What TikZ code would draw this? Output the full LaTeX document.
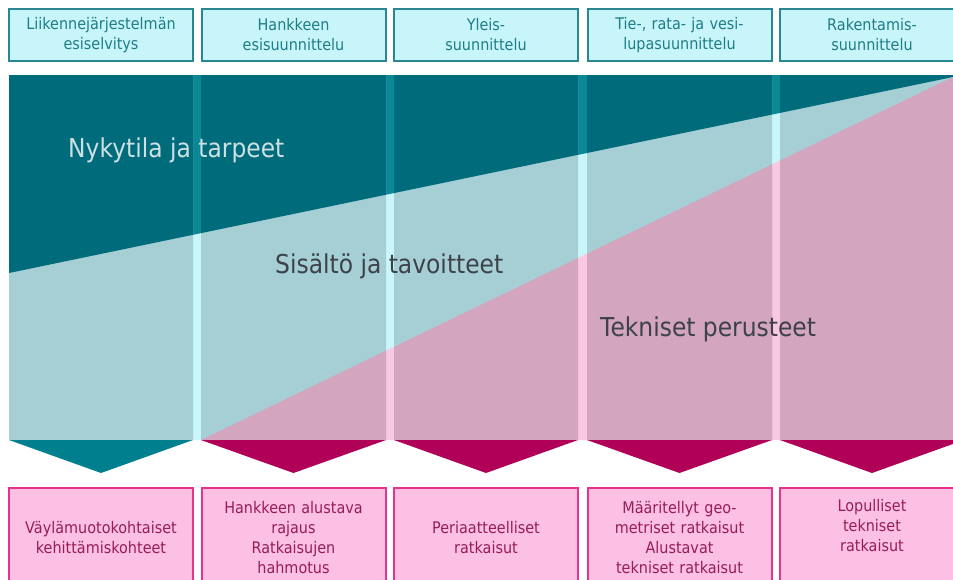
\documentclass[tikz,border=0pt]{standalone}
\usepackage{fontspec}
\setmainfont{DejaVu Sans}[FakeStretch=0.9]

\definecolor{darkband}{RGB}{0,107,122}
\definecolor{darkgap}{RGB}{12,135,150}
\definecolor{lightband}{RGB}{165,207,213}
\definecolor{lightgap}{RGB}{200,246,250}
\definecolor{pinkband}{RGB}{211,165,190}
\definecolor{pinkgap}{RGB}{251,200,228}
\definecolor{tealarrow}{RGB}{0,128,142}
\definecolor{magarrow}{RGB}{176,0,88}
\definecolor{phasefill}{RGB}{200,245,250}
\definecolor{phaseline}{RGB}{40,135,145}
\definecolor{phasetext}{RGB}{30,125,135}
\definecolor{resfill}{RGB}{251,192,226}
\definecolor{resline}{RGB}{232,50,140}
\definecolor{restext}{RGB}{150,30,85}
\definecolor{bandgray}{RGB}{60,66,72}
\definecolor{bandlight}{RGB}{205,225,228}

\begin{document}
\begin{tikzpicture}[x=1pt, y=-1pt,
    phase/.style={draw=phaseline, fill=phasefill, line width=2pt, inner sep=0pt,
        minimum width=184pt, minimum height=52pt, text width=180pt, align=center,
        text=phasetext, font=\fontsize{16}{20}\selectfont},
    result/.style={draw=resline, fill=resfill, line width=2pt, inner sep=0pt,
        minimum width=184pt, minimum height=100pt, text width=180pt, align=center,
        text=restext, font=\fontsize{16}{20}\selectfont},
    bandtext/.style={anchor=base west, inner sep=0pt, font=\fontsize{26}{30}\selectfont}]

        \useasboundingbox (0,0) rectangle (953,579);

        % bands, gap tone
        \fill[lightgap] (9,75) rectangle (964,440);
        \fill[darkgap] (9,75) -- (964,75) -- (953,77) -- (9,273) -- cycle;
        \fill[pinkgap] (201,440) -- (953,77) -- (964,77) -- (964,440) -- cycle;

        % bands, inside the columns
        \begin{scope}
        \clip (9,75) rectangle (193,440) (201,75) rectangle (386,440)
              (394,75) rectangle (578,440) (587,75) rectangle (772,440)
              (780,75) rectangle (964,440);
        \fill[lightband] (9,75) rectangle (964,440);
        \fill[darkband] (9,75) -- (964,75) -- (953,77) -- (9,273) -- cycle;
        \fill[pinkband] (201,440) -- (953,77) -- (964,77) -- (964,440) -- cycle;
        \end{scope}

        % band texts
        \node[bandtext, text=bandlight] (nyky) at (68,157) {Nykytila ja tarpeet};
        \node[bandtext, text=bandgray] (sisalto) at (275,273) {Sisältö ja tavoitteet};
        \node[bandtext, text=bandgray] (tekn) at (600,336) {Tekniset perusteet};

        % chevrons
        \fill[tealarrow] (9,440) -- (193,440) -- (101,473) -- cycle;
        \foreach \l/\r in {201/386, 394/578, 587/772, 780/964}
            \fill[magarrow] (\l,440) -- (\r,440) -- ({(\l+\r)/2},473) -- cycle;

        % phases
        \node[phase] (p1) at (101,35) {Liikennejärjestelmän\\esiselvitys};
        \node[phase] (p2) at (293.5,35) {Hankkeen\\esisuunnittelu};
        \node[phase] (p3) at (486,35) {Yleis-\\suunnittelu};
        \node[phase] (p4) at (679.5,35) {Tie-, rata- ja vesi-\\lupasuunnittelu};
        \node[phase] (p5) at (872,35) {Rakentamis-\\suunnittelu};

        % results
        \node[result] (r1) at (101,538) {Väylämuotokohtaiset\\kehittämiskohteet};
        \node[result] (r2) at (293.5,538) {Hankkeen alustava\\rajaus\\Ratkaisujen\\hahmotus};
        \node[result] (r3) at (486,538) {Periaatteelliset\\ratkaisut};
        \node[result] (r4) at (679.5,538) {Määritellyt geo-\\metriset ratkaisut\\Alustavat\\tekniset ratkaisut};
        \node[result] (r5) at (872,538) {Lopulliset\\tekniset\\ratkaisut\\\strut};

\end{tikzpicture}
\end{document}
